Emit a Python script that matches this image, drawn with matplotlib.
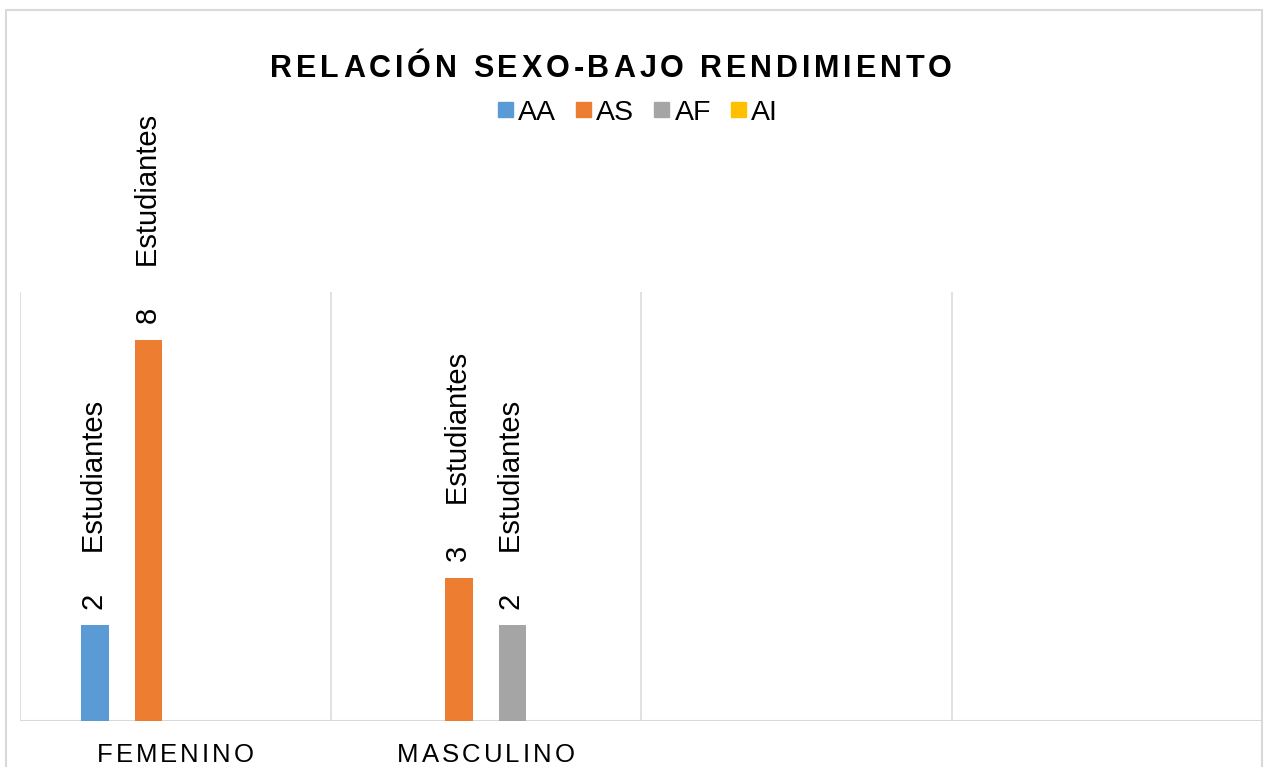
import matplotlib
matplotlib.use("Agg")
import matplotlib.pyplot as plt
import numpy as np
from matplotlib.patches import Patch, Rectangle

plt.rcParams["font.family"] = ["Liberation Sans", "DejaVu Sans"]

categories = ["FEMENINO", "MASCULINO", "", ""]
series_names = ["AA", "AS", "AF", "AI"]
aa = [2, None, None, None]
as_ = [8, 3, None, None]
af = [None, 2, None, None]
ai = [None, None, None, None]
series_values = [aa, as_, af, ai]
colors = ["#5B9BD5", "#ED7D31", "#A5A5A5", "#FFC000"]
title = "RELACIÓN SEXO-BAJO RENDIMIENTO"
unit = "Estudiantes"

W, H = 1267, 767
GRID = "#d9d9d9"

fig = plt.figure(figsize=(W / 100, H / 100), dpi=100)
renderer = fig.canvas.get_renderer()


def text_width(s, **kw):
    t = fig.text(0, 0, s, **kw)
    w = t.get_window_extent(renderer).width
    t.remove()
    return w


def spaced_text(x_px, y_px, s, spacing, **kw):
    # excel style letter spacing, one char at a time
    total = text_width(s, **kw) + spacing * (len(s) - 1)
    x0 = x_px - total / 2
    for i, ch in enumerate(s):
        if ch == " ":
            continue
        left = text_width(s[: i + 1], **kw) - text_width(ch, **kw) + i * spacing
        fig.text((x0 + left) / W, 1 - y_px / H, ch, ha="left", va="baseline", **kw)


# outer chart border
fig.add_artist(Rectangle((6 / W, -0.1), (1262 - 6) / W, 1.1 - 10 / H,
                         transform=fig.transFigure, fill=False, ec=GRID, lw=1.5))

ax = fig.add_axes([20 / W, 1 - 720.5 / H, (1262 - 20) / W, (720.5 - 292) / H])
n = len(categories)
x = np.arange(n)
step = 0.1723
width = 0.09

for i, (name, vals, c) in enumerate(zip(series_names, series_values, colors)):
    off = (i - 1.5) * step
    for j, v in enumerate(vals):
        if v is None:
            continue
        ax.bar(x[j] + off, v, width, color=c)
        ax.annotate(f"{v}     {unit}", (x[j] + off, v), xytext=(0, 11),
                    textcoords="offset points", rotation=90, ha="center",
                    va="bottom", fontsize=21, annotation_clip=False)

ax.set_xlim(-0.5, n - 0.5)
ax.set_ylim(0, 9)
ax.set_xticks([])
ax.set_yticks([])
for b in np.arange(-0.5, n, 1.0):
    ax.axvline(b, color=GRID, lw=1.1, zorder=0)
for s in ax.spines.values():
    s.set_visible(False)
ax.axhline(0, color=GRID, lw=1.5, zorder=0)

# category labels
for j, cat in enumerate(categories):
    if cat:
        xp = 20 + (j + 0.5) * (1262 - 20) / n
        spaced_text(xp, 762, cat, 3.0, fontsize=18.5)

spaced_text(611, 77, title, 3.9, fontsize=22, fontweight="bold")

handles = [Patch(color=c) for c in colors]
fig.legend(handles, series_names, loc="center", bbox_to_anchor=(638 / W, 1 - 113 / H),
           ncol=4, frameon=False, fontsize=20.5, handlelength=0.53, handleheight=0.43,
           handletextpad=0.18, columnspacing=0.7, borderpad=0, borderaxespad=0)

fig.savefig("out.png", dpi=100)
